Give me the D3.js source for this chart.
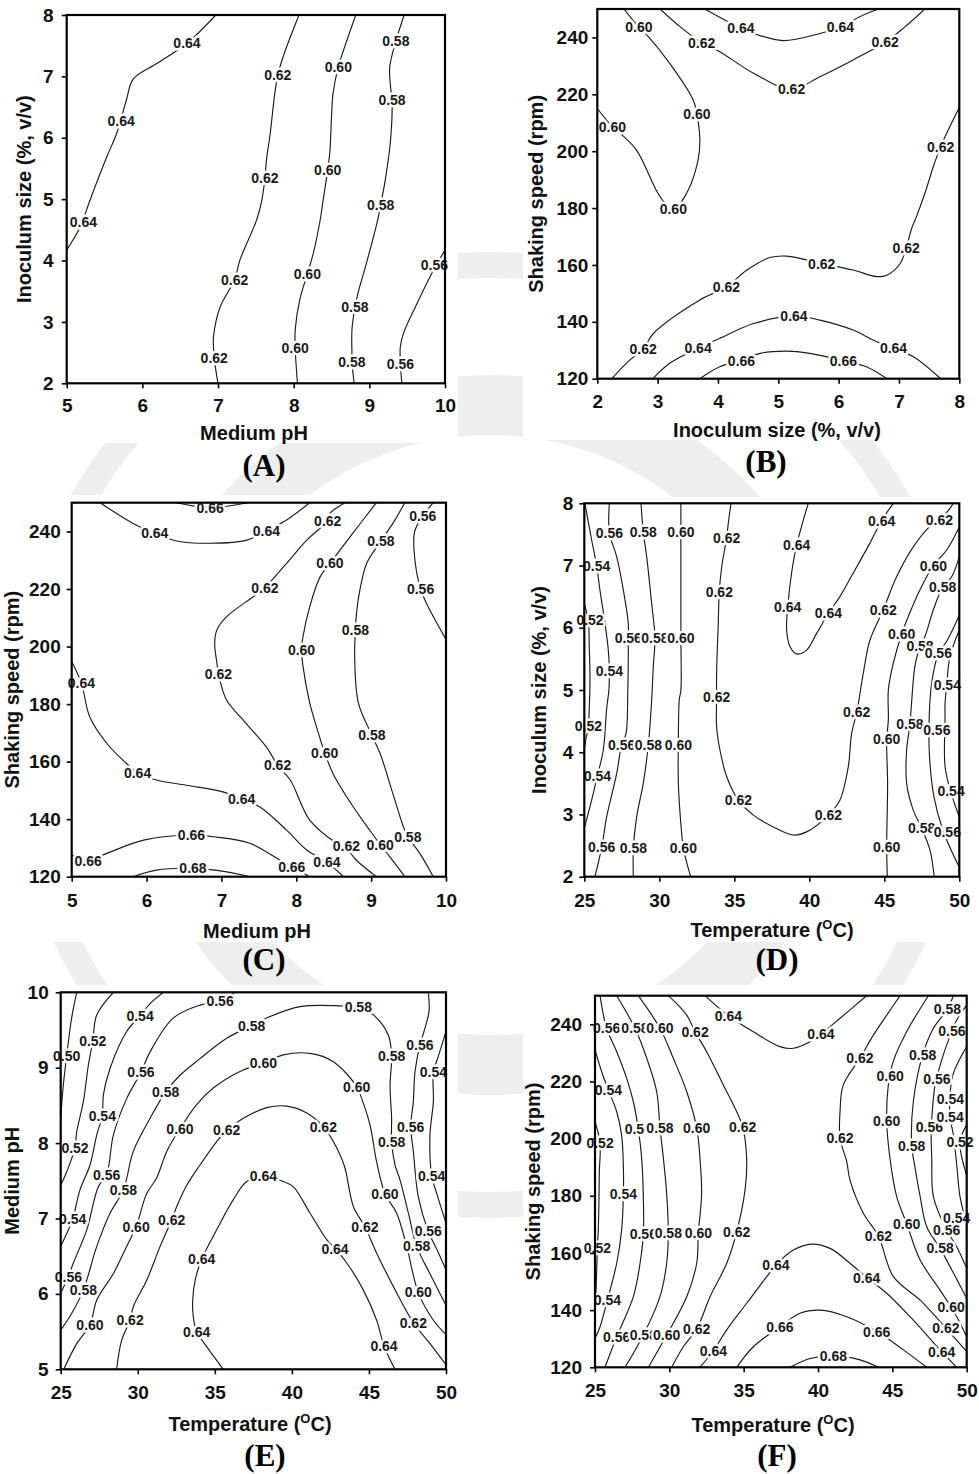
<!DOCTYPE html>
<html><head><meta charset="utf-8">
<script src="https://cdn.jsdelivr.net/npm/d3@7"></script>
<style>body{margin:0;background:#fff}svg{display:block}</style>
</head><body>
<svg id="c" width="979" height="1474"></svg>
<script>
// ---------- Panel A : Medium pH (x) vs Inoculum size (y) ----------
const A064=[[6.97,8],[6.59,7.54],[6.19,7.21],[5.88,6.96],[5.79,6.62],[5.66,6.07],[5.53,5.69],[5.31,4.99],[5.18,4.55],[5.0,4.17]];
const A062=[[8.07,8],[7.86,7.32],[7.79,7.02],[7.75,6.72],[7.69,6.07],[7.64,5.64],[7.62,5.34],[7.58,4.99],[7.51,4.66],[7.29,4.01],[7.22,3.69],[7.03,3.25],[6.94,2.76],[6.94,2.6],[6.95,2.41],[7.0,2.0]];
const A060=[[8.82,8],[8.66,7.43],[8.59,7.16],[8.52,6.72],[8.50,6.34],[8.48,5.80],[8.45,5.48],[8.39,4.99],[8.35,4.66],[8.26,4.12],[8.18,3.78],[8.08,3.36],[8.02,2.87],[8.02,2.57],[8.05,2.0]];
const A058=[[9.46,8],[9.35,7.57],[9.27,7.16],[9.28,6.83],[9.30,6.62],[9.28,5.96],[9.21,5.31],[9.15,4.91],[9.11,4.66],[8.96,3.95],[8.85,3.47],[8.81,3.24],[8.77,2.87],[8.77,2.49],[8.77,2.34],[8.80,2.0]];
const A056=[[10,4.17],[9.85,3.85],[9.63,3.30],[9.45,2.81],[9.41,2.60],[9.41,2.31],[9.43,2.0]];
const A_labels=[[6.59,7.54,"0.64"],[5.72,6.28,"0.64"],[5.22,4.63,"0.64"],[7.79,7.02,"0.62"],[7.62,5.34,"0.62"],[7.22,3.69,"0.62"],[6.95,2.41,"0.62"],[8.59,7.16,"0.60"],[8.45,5.48,"0.60"],[8.18,3.78,"0.60"],[8.02,2.57,"0.60"],[9.35,7.57,"0.58"],[9.30,6.62,"0.58"],[9.15,4.91,"0.58"],[8.81,3.24,"0.58"],[8.77,2.34,"0.58"],[9.86,3.92,"0.56"],[9.41,2.31,"0.56"]];

// ---------- Panel B : Inoculum size (x) vs Shaking speed (y) ----------
const B060=[[2.44,250],[2.69,243.6],[2.82,240.9],[3.20,230.9],[3.59,218],[3.65,213.1],[3.70,204],[3.67,196.9],[3.48,185.2],[3.26,179.4],[3.04,184],[2.65,200.4],[2.38,206.3],[2.25,208.6],[2.0,215]];
const B062a=[[3.04,250],[3.37,243.8],[3.73,238.2],[4.03,235],[4.59,227.4],[5.22,221.8],[5.69,226.2],[6.24,232.1],[6.77,238.3],[7.07,243.2],[7.43,250]];
const B064a=[[3.78,250],[4.38,243.2],[4.59,241.4],[5.08,238.9],[5.69,241.4],[6.03,243.6],[6.35,247.3],[6.66,250]];
const B062b=[[8.0,215.4],[7.79,206.3],[7.69,201.6],[7.57,194.6],[7.43,185.2],[7.29,177],[7.21,172.8],[7.12,166],[7.02,160.5],[6.80,156.4],[6.63,155.9],[6.24,158.2],[5.72,160.5],[5.14,163.1],[4.86,162.6],[4.48,158.2],[4.14,152.3],[3.70,147.7],[2.93,135.9],[2.76,130.3],[2.54,126.6],[2.24,120]];
const B064b=[[2.92,120],[3.20,125.4],[3.67,130.7],[4.03,134.2],[4.59,139.4],[5.26,142.1],[5.69,140.6],[6.24,137.1],[6.57,133.6],[6.91,130.7],[7.24,127.7],[7.69,120]];
const B066=[[3.70,120],[4.03,124.2],[4.39,126.3],[4.70,128.9],[5.14,129.7],[5.52,128.9],[6.08,126.3],[6.46,124.2],[6.80,120]];
const B_labels=[[2.69,243.6,"0.60"],[3.65,213.1,"0.60"],[3.26,179.6,"0.60"],[2.25,208.6,"0.60"],[3.73,238.2,"0.62"],[5.22,221.8,"0.62"],[6.77,238.3,"0.62"],[4.38,243.2,"0.64"],[6.03,243.6,"0.64"],[7.69,201.6,"0.62"],[7.12,166,"0.62"],[5.72,160.5,"0.62"],[4.14,152.3,"0.62"],[2.76,130.3,"0.62"],[3.67,130.7,"0.64"],[5.26,142.1,"0.64"],[6.91,130.7,"0.64"],[4.39,126.3,"0.66"],[6.08,126.3,"0.66"]];

// ---------- Panel C : Medium pH (x) vs Shaking speed (y) ----------
const C066a=[[6.40,250],[6.85,248.3],[7.35,250]];
const C064a=[[5.38,250],[5.82,242.8],[6.11,239.4],[6.40,236.7],[6.85,235.9],[7.34,237],[7.60,240.3],[7.87,244],[8.18,250]];
const C062=[[8.65,250],[8.45,246.3],[8.42,243.8],[8.14,237],[7.87,228.9],[7.58,220.5],[7.43,217.4],[7.07,210.4],[6.94,205.8],[6.91,201.2],[6.94,194.2],[6.96,190.5],[7.07,181.3],[7.25,175.6],[7.60,165.1],[7.75,158.8],[7.92,153.6],[8.18,139.7],[8.54,131.6],[8.67,129.8],[8.80,125.8],[9.07,120]];
const C064b=[[5.0,194.8],[5.13,187.3],[5.24,175.6],[5.47,166.3],[5.71,159.9],[5.88,156.1],[6.13,153.6],[6.53,151.8],[7.02,149.5],[7.27,147],[7.51,144.3],[7.87,136.2],[8.14,129.3],[8.41,125],[8.63,120]];
const C066b=[[5.0,127.5],[5.22,125.6],[5.47,128.1],[5.96,132.7],[6.60,134.5],[6.89,133.9],[7.38,131.6],[7.74,126.4],[7.94,123.5],[8.18,120]];
const C068=[[5.82,120],[6.13,122.3],[6.62,122.9],[7.07,121.7],[7.38,120]];
const C060=[[9.07,250],[8.72,238.2],[8.45,228.9],[8.32,224.3],[8.18,213.9],[8.09,203.5],[8.07,198.8],[8.09,193.1],[8.18,180.3],[8.27,172.1],[8.38,163],[8.49,155.9],[8.76,144.3],[8.98,136.2],[9.12,131.2],[9.25,126.9],[9.45,120]];
const C058=[[9.45,250],[9.29,242.8],[9.13,236.7],[8.94,228.9],[8.85,219.7],[8.80,210.4],[8.79,205.8],[8.78,196.5],[8.83,180.3],[9.01,169.2],[9.12,162.8],[9.29,148.9],[9.43,137.4],[9.49,133.9],[9.65,128.1],[9.83,120]];
const C056=[[9.83,250],[9.69,245.4],[9.58,239.9],[9.58,231.3],[9.66,220],[9.74,215],[10.0,202.5]];
const C_labels=[[6.85,248.3,"0.66"],[6.11,239.4,"0.64"],[7.60,240.3,"0.64"],[8.42,243.8,"0.62"],[7.58,220.5,"0.62"],[6.96,190.5,"0.62"],[7.75,158.8,"0.62"],[8.67,130.8,"0.62"],[5.13,187.3,"0.64"],[5.88,156.1,"0.64"],[7.27,147,"0.64"],[8.41,125,"0.64"],[5.22,125.6,"0.66"],[6.60,134.5,"0.66"],[7.94,123.5,"0.66"],[6.62,122.9,"0.68"],[8.45,228.9,"0.60"],[8.07,198.8,"0.60"],[8.38,163,"0.60"],[9.12,131.2,"0.60"],[9.13,236.7,"0.58"],[8.79,205.8,"0.58"],[9.01,169.2,"0.58"],[9.49,133.9,"0.58"],[9.69,245.4,"0.56"],[9.66,220,"0.56"]];

// ---------- Panel D : Temperature (x) vs Inoculum size (y) ----------
const D052a=[[25,6.39],[25.27,6.1],[25.33,5.70],[25.38,5.2],[25.33,4.7],[25.27,4.42],[25.1,4.2],[25,4.04]];
const D054a=[[25.04,8.0],[25.49,7.41],[25.82,7.0],[26.04,6.61],[26.38,6.07],[26.6,5.64],[26.67,5.30],[26.64,5.0],[26.49,4.7],[26.27,4.04],[25.87,3.62],[25.49,3.23],[25,2.78]];
const D056a=[[26.67,8],[26.67,7.53],[27.16,7.14],[27.6,6.61],[27.93,6.07],[27.93,5.84],[27.93,5.43],[27.9,5.0],[27.78,4.30],[27.49,4.12],[27.16,3.66],[26.49,2.96],[26.16,2.47],[25.71,2.0]];
const D058a=[[28.78,8],[28.93,7.54],[29.16,7.14],[29.49,6.39],[29.71,5.84],[29.6,5.38],[29.49,4.84],[29.27,4.12],[28.93,3.5],[28.49,2.96],[28.27,2.46],[28.27,2.0]];
const D060a=[[31.44,8],[31.44,7.54],[31.44,6.61],[31.44,5.84],[31.44,5.0],[31.33,4.84],[31.27,4.12],[31.27,3.5],[31.49,2.7],[31.6,2.46],[32.09,2.0]];
const D062=[[34.78,8],[34.6,7.68],[34.49,7.45],[34.16,6.98],[34.0,6.58],[33.93,6.07],[33.82,5.27],[33.82,4.89],[33.82,4.41],[34.04,4.04],[34.49,3.61],[35.27,3.23],[36.27,2.99],[37.6,2.80],[38.93,2.67],[39.82,2.72],[41.27,2.99],[42.04,3.23],[42.6,3.77],[42.82,4.30],[43.16,4.64],[43.6,5.27],[44.04,5.80],[44.93,6.29],[45.82,6.82],[46.93,7.30],[48.04,7.63],[48.67,7.73],[49.38,7.92],[49.6,8.0]];
const D064=[[39.93,8],[39.16,7.33],[38.82,6.88],[38.56,6.33],[38.49,5.96],[38.71,5.70],[39.16,5.58],[39.82,5.64],[40.49,5.91],[41.27,6.23],[42.04,6.5],[42.93,6.88],[44.04,7.36],[44.82,7.72],[45.6,8.0]];
const D060b=[[50,7.62],[49.16,7.25],[48.27,7.0],[47.38,6.61],[46.6,6.18],[46.16,5.9],[45.6,5.43],[45.27,5.0],[45.27,4.52],[45.16,4.21],[45.22,3.5],[45.16,2.48],[45.2,2.0]];
const D058b=[[50,7.14],[49.49,6.82],[48.89,6.65],[48.27,6.29],[47.71,5.86],[47.38,5.7],[47.04,5.38],[46.82,4.8],[46.71,4.45],[46.49,4.04],[46.49,3.5],[46.93,3.07],[47.49,2.78],[48.04,2.43],[48.33,2.0]];
const D056b=[[50,6.2],[49.2,5.8],[48.6,5.58],[48.15,5.1],[48.0,4.6],[48.0,4.0],[48.3,3.3],[48.9,2.75],[50,2.15]];
const D054b=[[50,5.96],[49.38,5.54],[49.16,5.08],[49.05,4.78],[49.05,4.57],[49.05,3.77],[49.42,3.37],[50,2.96]];
const D_labels=[[25.38,6.13,"0.52"],[25.27,4.42,"0.52"],[25.82,7.0,"0.54"],[26.67,5.30,"0.54"],[25.87,3.62,"0.54"],[26.67,7.53,"0.56"],[27.93,5.84,"0.56"],[27.49,4.12,"0.56"],[26.16,2.47,"0.56"],[28.93,7.54,"0.58"],[29.71,5.84,"0.58"],[29.27,4.12,"0.58"],[28.27,2.46,"0.58"],[31.44,7.54,"0.60"],[31.44,5.84,"0.60"],[31.27,4.12,"0.60"],[31.6,2.46,"0.60"],[34.49,7.45,"0.62"],[34.0,6.58,"0.62"],[33.82,4.89,"0.62"],[35.27,3.23,"0.62"],[41.27,2.99,"0.62"],[43.16,4.64,"0.62"],[44.93,6.29,"0.62"],[48.67,7.73,"0.62"],[39.16,7.33,"0.64"],[38.56,6.33,"0.64"],[41.27,6.23,"0.64"],[44.82,7.72,"0.64"],[48.27,7.0,"0.60"],[46.16,5.9,"0.60"],[45.16,4.21,"0.60"],[45.16,2.48,"0.60"],[48.89,6.65,"0.58"],[47.38,5.7,"0.58"],[46.71,4.45,"0.58"],[47.49,2.78,"0.58"],[48.6,5.6,"0.56"],[48.5,4.36,"0.56"],[49.2,2.72,"0.56"],[49.2,5.08,"0.54"],[49.45,3.37,"0.54"]];

// ---------- Panel E : Temperature (x) vs Medium pH (y) ----------
const E050=[[26.04,10],[25.71,9.66],[25.39,9.16],[25.17,8.77],[25.0,8.33]];
const E052=[[28.42,10],[27.34,9.70],[27.08,9.35],[26.8,9.04],[26.47,8.55],[26.04,8.15],[25.93,7.94],[25.39,7.62],[25,7.44]];
const E054a=[[31.66,10],[30.8,9.85],[30.15,9.69],[29.28,9.48],[28.2,8.99],[27.77,8.64],[27.7,8.36],[27.34,8.11],[26.9,7.71],[26.25,7.38],[25.78,6.99],[25.39,6.80],[25.0,6.63]];
const E056a=[[36.3,10],[35.34,9.88],[34.04,9.83],[32.31,9.66],[30.8,9.21],[30.21,8.94],[29.28,8.59],[28.42,8.11],[27.98,7.58],[27.44,7.42],[26.69,6.85],[25.82,6.41],[25.5,6.23],[25,6.01]];
const E058=[[25,5.52],[25.71,5.74],[26.47,6.05],[27.34,6.63],[28.2,7.07],[29.07,7.38],[29.71,7.89],[30.8,8.33],[31.81,8.68],[32.74,8.9],[34.04,9.12],[35.77,9.39],[37.39,9.56],[38.37,9.66],[40.53,9.81],[43.12,9.82],[44.31,9.80],[45.29,9.70],[46.26,9.43],[46.47,9.15],[46.37,8.77],[46.47,8.33],[46.47,8.02],[46.69,7.71],[47.02,7.51],[47.56,7.07],[48.1,6.63],[49.0,6.25],[50,5.85]];
const E060=[[25.2,5.0],[26.04,5.34],[26.9,5.59],[27.34,5.92],[28.42,6.27],[29.28,6.63],[29.89,6.89],[30.58,7.33],[31.23,7.54],[31.88,7.89],[32.74,8.19],[33.82,8.51],[34.9,8.73],[36.63,8.95],[38.15,9.06],[39.45,9.17],[41.18,9.19],[42.69,9.08],[44.2,8.75],[44.53,8.59],[45.07,8.24],[45.5,7.75],[46.04,7.33],[46.8,7.07],[47.45,6.63],[48.2,6.02],[49.18,5.65],[50,5.46]];
const E062=[[28.63,5.0],[28.96,5.39],[29.5,5.65],[29.71,5.83],[30.58,6.18],[31.45,6.63],[32.2,6.98],[32.53,7.16],[33.18,7.44],[34.04,7.71],[35.12,8.02],[35.77,8.17],[36.85,8.33],[38.37,8.47],[39.66,8.49],[40.96,8.4],[42.04,8.22],[42.69,8.02],[43.4,7.7],[43.99,7.16],[44.74,6.89],[45.5,6.54],[46.58,6.1],[47.88,5.62],[48.96,5.34],[50,5.06]];
const E064=[[35.55,5.0],[34.47,5.3],[33.82,5.5],[33.6,5.7],[33.56,5.9],[33.72,6.18],[34.15,6.46],[35.12,6.85],[36.2,7.25],[37.07,7.49],[38.15,7.56],[39.45,7.49],[40.1,7.42],[41.18,7.07],[42.26,6.72],[42.8,6.6],[43.56,6.41],[44.64,6.05],[45.5,5.65],[45.98,5.31],[46.69,5.0]];
const E056b=[[48.85,10],[48.9,9.75],[48.6,9.5],[48.31,9.30],[47.99,8.95],[47.88,8.55],[47.71,8.22],[47.88,7.89],[48.2,7.29],[48.85,6.83],[49.5,6.55],[50,6.32]];
const E054b=[[50,9.48],[49.5,9.15],[49.18,8.94],[49.18,8.55],[48.96,8.11],[49.07,7.57],[49.4,7.33],[50,6.94]];
const E_labels=[[25.39,9.16,"0.50"],[27.08,9.35,"0.52"],[25.93,7.94,"0.52"],[30.15,9.69,"0.54"],[27.7,8.36,"0.54"],[25.78,6.99,"0.54"],[35.34,9.88,"0.56"],[30.21,8.94,"0.56"],[27.98,7.58,"0.56"],[25.5,6.23,"0.56"],[37.39,9.56,"0.58"],[31.81,8.68,"0.58"],[29.07,7.38,"0.58"],[26.47,6.05,"0.58"],[44.31,9.80,"0.58"],[46.47,9.15,"0.58"],[46.47,8.02,"0.58"],[48.1,6.63,"0.58"],[38.15,9.06,"0.60"],[32.74,8.19,"0.60"],[29.89,6.89,"0.60"],[26.9,5.59,"0.60"],[44.2,8.75,"0.60"],[46.04,7.33,"0.60"],[48.2,6.02,"0.60"],[35.77,8.17,"0.62"],[32.2,6.98,"0.62"],[29.5,5.65,"0.62"],[42.04,8.22,"0.62"],[44.74,6.89,"0.62"],[47.88,5.62,"0.62"],[38.15,7.56,"0.64"],[34.15,6.46,"0.64"],[33.82,5.5,"0.64"],[42.8,6.6,"0.64"],[45.98,5.31,"0.64"],[48.31,9.30,"0.56"],[47.71,8.22,"0.56"],[48.85,6.83,"0.56"],[49.18,8.94,"0.54"],[49.07,7.57,"0.54"]];

// ---------- Panel F : Temperature (x) vs Shaking speed (y) ----------
const F052a=[[25,205.9],[25.34,198.4],[25.29,188.5],[25.27,179.7],[25.22,168],[25.16,161.6],[25.07,147],[25.0,138.9]];
const F054a=[[25,231],[25.45,223.4],[25.9,217],[26.46,209.4],[26.79,201.3],[26.91,189.6],[26.91,180.6],[26.79,168],[26.46,156.4],[25.83,143.5],[25.34,134.2],[25.0,130.1]];
const F056a=[[25.34,250],[25.78,238.6],[26.46,230.4],[27.13,221.1],[27.58,212.9],[27.91,203.4],[28.14,193.1],[28.25,179.7],[28.25,166.5],[28.03,156.4],[27.58,144.7],[26.46,130.7],[25.67,120]];
const F058a=[[26.46,250],[27.69,238.6],[28.48,228.1],[29.15,216.4],[29.37,203.8],[29.6,193.1],[29.82,180.8],[29.93,166.9],[29.82,156.4],[29.37,144.7],[28.25,131.3],[27.02,120]];
const F060a=[[27.91,250],[29.37,238.6],[30.27,228.1],[31.17,216.4],[31.84,203.8],[32.06,193.1],[32.17,180.8],[31.95,166.9],[31.84,156.4],[31.17,144.7],[29.82,131.3],[28.59,120]];
const F062a=[[29.93,250],[31.17,243.2],[31.73,237.4],[32.51,230.4],[33.63,218.8],[34.53,209.4],[34.93,204.2],[35.2,193.1],[35.09,182],[34.53,167.4],[33.86,156.4],[32.74,144.7],[31.84,133.4],[30.94,127.2],[30.16,120]];
const F064a=[[32.4,250],[33.97,243],[35.65,237.4],[37.44,232.2],[38.34,231.6],[39.46,233.9],[40.2,236.6],[41.48,242.1],[43.27,250]];
const F064b=[[32.06,120],[32.96,125.8],[33.86,133.1],[35.2,142.4],[36.55,151.7],[37.17,155.8],[38.34,161],[39.57,163.1],[40.81,161.6],[42.15,156.4],[43.27,151.4],[44.62,145.9],[46.19,137.7],[48.32,125.5],[49.33,120]];
const F066=[[34.53,120],[35.65,127.2],[37.44,134.2],[38.79,138.9],[40.13,140],[41.93,137.7],[43.95,132.5],[45.74,126.1],[47.31,120]];
const F068=[[38.12,120],[39.46,123.1],[41.03,124],[42.83,122.6],[44.06,120]];
const F062b=[[45.52,250],[44.62,243.2],[43.72,236.2],[42.82,228.1],[41.7,218.8],[41.48,209.4],[41.48,200.1],[41.93,192],[42.15,185.5],[43.05,173.9],[44.06,165.9],[45.07,151.7],[46.87,143.5],[48.21,136],[50,125.5]];
const F060b=[[47.42,250],[45.96,237.4],[45.07,227.2],[44.73,218.8],[44.62,206.2],[44.84,193.1],[45.29,179.7],[45.96,170.3],[46.87,157.5],[48.21,147],[49.2,138.9],[50,130.7]];
const F058b=[[49.1,250],[48.7,245.3],[47.76,238.6],[47.04,229.3],[46.41,212.9],[46.3,197.6],[46.52,190],[46.87,179.7],[47.31,169.2],[48.21,161.6],[50,144.1]];
const F056b=[[50,246.7],[49.33,241.5],[48.65,232.7],[48.32,227.5],[47.87,218.8],[47.65,207.1],[47.6,204.2],[47.65,193.1],[47.76,179.7],[48.65,168],[49.33,162.2],[50,154.6]];
const F054b=[[50,232.2],[49.1,222.8],[48.88,215.2],[48.88,207.7],[49.1,201.3],[49.33,190.8],[49.55,179.7],[50,170.3]];
const F052b=[[50,204.8],[49.55,198.7],[50,187.1]];
const F_labels=[[25.34,198.4,"0.52"],[25.16,161.6,"0.52"],[25.9,217,"0.54"],[26.91,180.6,"0.54"],[25.83,143.5,"0.54"],[25.78,238.6,"0.56"],[27.91,203.4,"0.56"],[28.25,166.5,"0.56"],[26.46,130.7,"0.56"],[27.69,238.6,"0.58"],[29.37,203.8,"0.58"],[29.93,166.9,"0.58"],[28.25,131.3,"0.58"],[29.37,238.6,"0.60"],[31.84,203.8,"0.60"],[31.95,166.9,"0.60"],[29.82,131.3,"0.60"],[31.73,237.4,"0.62"],[34.93,204.2,"0.62"],[34.53,167.4,"0.62"],[31.84,133.4,"0.62"],[33.97,243,"0.64"],[40.2,236.6,"0.64"],[32.96,125.8,"0.64"],[37.17,155.8,"0.64"],[43.27,151.4,"0.64"],[48.32,125.5,"0.64"],[37.44,134.2,"0.66"],[43.95,132.5,"0.66"],[41.03,124,"0.68"],[42.82,228.1,"0.62"],[41.48,200.1,"0.62"],[44.06,165.9,"0.62"],[48.6,133.7,"0.62"],[44.85,222,"0.60"],[44.62,206.2,"0.60"],[45.96,170.3,"0.60"],[48.95,141.2,"0.60"],[48.7,245.3,"0.58"],[47.04,229.3,"0.58"],[46.3,197.6,"0.58"],[48.21,161.6,"0.58"],[49.0,237.5,"0.56"],[48.0,221,"0.56"],[47.49,204.2,"0.56"],[48.65,168,"0.56"],[48.9,214,"0.54"],[48.88,207.7,"0.54"],[49.33,172.1,"0.54"],[49.55,198.7,"0.52"]];

// ---------- axis ticks and titles ----------
const phTicks=[5,6,7,8,9,10];
const inocTicks=[2,3,4,5,6,7,8];
const rpmTicks=[120,140,160,180,200,220,240];
const tempTicks=[25,30,35,40,45,50];
const tagNames=["(A)","(B)","(C)","(D)","(E)","(F)"];

// ---------- layout ----------
const panels=[
 {tag:tagNames[0],bg:[0,0,458,443],box:[66.7,15,445,383.3],xDom:[5,10],yDom:[2,8],xT:phTicks,yT:inocTicks,xTitle:"Medium pH",yTitle:"Inoculum size (%, v/v)",temp:false,lines:[A064,A062,A060,A058,A056],labels:A_labels,xtx:254,xty:440,ytx:31,tagx:264,tagy:476,ypad:8,xpad:10.5},
 {tag:tagNames[1],bg:[523,0,456,440],box:[597.3,9,959.3,378.7],xDom:[2,8],yDom:[120,250],xT:inocTicks,yT:rpmTicks,xTitle:"Inoculum size (%, v/v)",yTitle:"Shaking speed (rpm)",temp:false,lines:[B060,B062a,B064a,B062b,B064b,B066],labels:B_labels,xtx:777,xty:437,ytx:543,tagx:766,tagy:472,ypad:4,xpad:10.5},
 {tag:tagNames[2],bg:[0,495,458,447],box:[71.7,502.7,446,876.7],xDom:[5,10],yDom:[120,250],xT:phTicks,yT:rpmTicks,xTitle:"Medium pH",yTitle:"Shaking speed (rpm)",temp:false,lines:[C066a,C064a,C062,C064b,C066b,C068,C060,C058,C056],labels:C_labels,xtx:257,xty:938,ytx:19,tagx:264,tagy:970,ypad:6,xpad:12},
 {tag:tagNames[3],bg:[527,497,452,445],box:[584.3,503.3,959.3,876.7],xDom:[25,50],yDom:[2,8],xT:tempTicks,yT:inocTicks,xTitle:"Temperature",yTitle:"Inoculum size (%, v/v)",temp:true,lines:[D052a,D054a,D056a,D058a,D060a,D062,D064,D060b,D058b,D056b,D054b],labels:D_labels,xtx:772,xty:937,ytx:546,tagx:777,tagy:970,ypad:6,xpad:11.5},
 {tag:tagNames[4],bg:[0,985,458,489],box:[60.7,992.3,446,1369.3],xDom:[25,50],yDom:[5,10],xT:tempTicks,yT:[5,6,7,8,9,10],xTitle:"Temperature",yTitle:"Medium pH",temp:true,lines:[E050,E052,E054a,E056a,E058,E060,E062,E064,E056b,E054b],labels:E_labels,xtx:250,xty:1431,ytx:19,tagx:265,tagy:1466,ypad:7,xpad:11.5},
 {tag:tagNames[5],bg:[523,985,456,489],box:[595,995.7,966.7,1367.3],xDom:[25,50],yDom:[120,250],xT:tempTicks,yT:rpmTicks,xTitle:"Temperature",yTitle:"Shaking speed (rpm)",temp:true,lines:[F052a,F054a,F056a,F058a,F060a,F062a,F064a,F064b,F066,F068,F062b,F060b,F058b,F056b,F054b,F052b],labels:F_labels,xtx:773,xty:1432,ytx:540,tagx:777,tagy:1466,ypad:8,xpad:11.5}
];

const SANS="'Liberation Sans', Arial, Helvetica, sans-serif";
const SERIF="'Liberation Serif', 'Times New Roman', serif";
const svg=d3.select("#c");
const defs=svg.append("defs");
svg.append("rect").attr("width",979).attr("height",1474).attr("fill","#fff");

// faint background watermark
const wm=svg.append("g").attr("fill","none").attr("stroke","#e4e4e4").attr("opacity",0.6);
wm.append("circle").attr("cx",490).attr("cy",735).attr("r",330).attr("stroke-width",60);
wm.append("circle").attr("cx",490).attr("cy",735).attr("r",470).attr("stroke-width",26);

panels.forEach((p,i)=>{
  const g=svg.append("g");
  g.append("rect").attr("x",p.bg[0]).attr("y",p.bg[1]).attr("width",p.bg[2]).attr("height",p.bg[3]).attr("fill","#fff");
  const [x0,y0,x1,y1]=p.box;
  const x=d3.scaleLinear().domain(p.xDom).range([x0,x1]);
  const y=d3.scaleLinear().domain(p.yDom).range([y1,y0]);
  const cid="clip"+i;
  defs.append("clipPath").attr("id",cid).append("rect").attr("x",x0).attr("y",y0).attr("width",x1-x0).attr("height",y1-y0);
  const line=d3.line().x(d=>x(d[0])).y(d=>y(d[1])).curve(d3.curveCatmullRom.alpha(0.5));
  g.append("g").attr("clip-path",`url(#${cid})`).selectAll("path").data(p.lines).join("path")
    .attr("d",line).attr("fill","none").attr("stroke","#1c1c1c").attr("stroke-width",1.15);
  g.append("g").selectAll("text").data(p.labels).join("text")
    .attr("x",d=>x(d[0])).attr("y",d=>y(d[1])).attr("dy","0.36em")
    .attr("text-anchor","middle").attr("font-family",SANS).attr("font-weight","bold").attr("font-size",14)
    .attr("fill","#1a1a1a").attr("stroke","#fff").attr("stroke-width",5).attr("stroke-linejoin","round")
    .style("paint-order","stroke").text(d=>d[2]);
  // axes
  const xa=g.append("g").attr("transform",`translate(0,${y1})`)
    .call(d3.axisBottom(x).tickValues(p.xT).tickFormat(d3.format("d")).tickSize(5).tickPadding(p.xpad));
  const ya=g.append("g").attr("transform",`translate(${x0},0)`)
    .call(d3.axisLeft(y).tickValues(p.yT).tickFormat(d3.format("d")).tickSize(5).tickPadding(p.ypad));
  [xa,ya].forEach(a=>{
    a.select(".domain").remove();
    a.selectAll("line").attr("stroke","#000").attr("stroke-width",1.6);
    a.selectAll("text").attr("font-family",SANS).attr("font-weight","bold").attr("font-size",19).attr("fill","#111");
  });
  g.append("rect").attr("x",x0).attr("y",y0).attr("width",x1-x0).attr("height",y1-y0)
    .attr("fill","none").attr("stroke","#000").attr("stroke-width",2.2);
  // x title
  const xt=g.append("text").attr("x",p.xtx).attr("y",p.xty).attr("text-anchor","middle")
    .attr("font-family",SANS).attr("font-weight","bold").attr("font-size",20).attr("fill","#111");
  if(p.temp){
    xt.append("tspan").text("Temperature (");
    xt.append("tspan").attr("font-size",13).attr("dy",-8).text("O");
    xt.append("tspan").attr("dy",8).text("C)");
  } else xt.text(p.xTitle);
  // y title
  g.append("text").attr("transform",`translate(${p.ytx},${(y0+y1)/2}) rotate(-90)`).attr("text-anchor","middle")
    .attr("font-family",SANS).attr("font-weight","bold").attr("font-size",20).attr("fill","#111").text(p.yTitle);
  // panel tag
  g.append("text").attr("x",p.tagx).attr("y",p.tagy).attr("text-anchor","middle")
    .attr("font-family",SERIF).attr("font-weight","bold").attr("font-size",31).attr("fill","#000").text(p.tag);
});
</script>
</body></html>
